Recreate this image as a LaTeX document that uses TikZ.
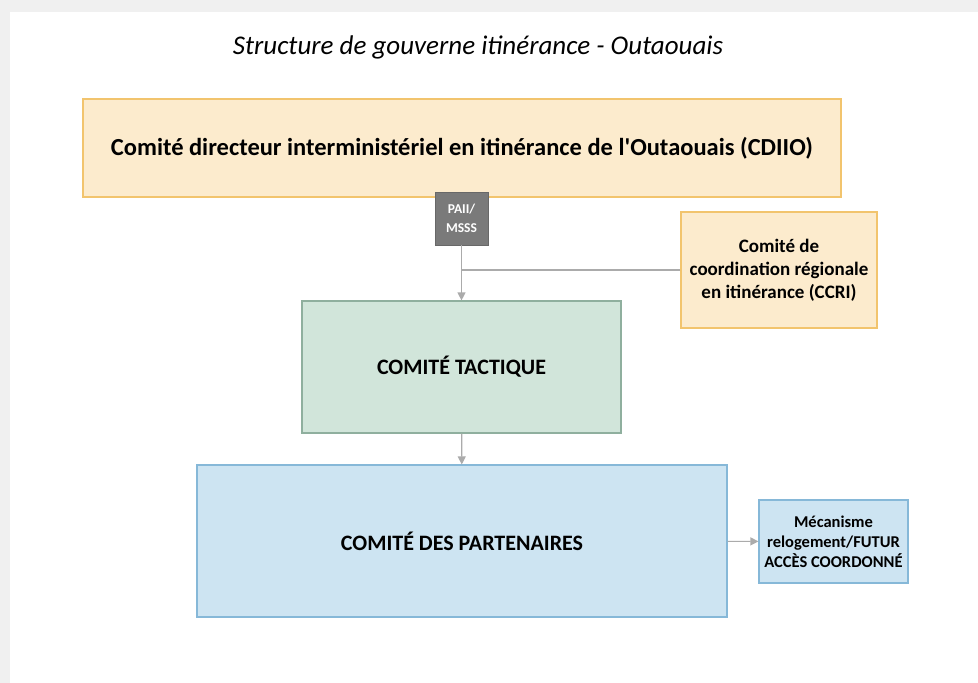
\documentclass[tikz,border=0pt]{standalone}
\usepackage{fontspec}
\setmainfont{Carlito}
\usepackage{tikz}
\usetikzlibrary{arrows.meta, positioning}
\definecolor{PaleGold}{HTML}{FCEBCD}
\definecolor{GoldEdge}{HTML}{F2C46D}
\definecolor{PaleSage}{HTML}{D1E5DA}
\definecolor{SageEdge}{HTML}{8FAF9E}
\definecolor{PaleSky}{HTML}{CDE4F2}
\definecolor{SkyEdge}{HTML}{86B8D8}
\definecolor{Slate}{HTML}{7A7A7A}
\definecolor{Wire}{HTML}{ABABAB}
\definecolor{Frame}{HTML}{F0F0F0}
\tikzset{
  box/.style={draw, line width=1.2pt, align=center, inner sep=2pt, font=\bfseries},
  directeur/.style={box, fill=PaleGold, draw=GoldEdge},
  tactique/.style={box, fill=PaleSage, draw=SageEdge},
  partenaire/.style={box, fill=PaleSky, draw=SkyEdge},
  badge/.style={fill=Slate, draw=Slate!85!black, text=white, align=center, font=\fontsize{13.5}{19}\selectfont\bfseries},
  link/.style={-{Triangle[length=8pt, width=8pt]}, line width=1.2pt, color=Wire},
  wire/.style={line width=1.2pt, color=Wire},
}

\begin{document}
\begin{tikzpicture}[x=1pt, y=-1pt]
  % page frame
  \fill[Frame] (0,0) rectangle (978,683);
  \fill[white] (10,12) rectangle (978,683);
  \useasboundingbox (0,0) rectangle (978,683);

  % title
  \node[font=\fontsize{27}{30}\selectfont\itshape] (titre) at (478,47)
    {Structure de gouverne itinérance - Outaouais};

  % top committee
  \node[directeur, minimum width=758pt, minimum height=98pt,
        font=\fontsize{24.5}{28}\selectfont\bfseries] (cdiio) at (462,148)
    {Comité directeur interministériel en itinérance de l\textquotesingle Outaouais (CDIIO)};
  \node[badge, minimum width=53pt, minimum height=53pt] (paii) at (461.5,218.5)
    {PAII/\\MSSS};

  % side committee
  \node[directeur, minimum width=196pt, minimum height=116pt,
        font=\fontsize{19}{23}\selectfont\bfseries] (ccri) at (779,270)
    {Comité de\\coordination régionale\\en itinérance (CCRI)};

  % tactical committee
  \node[tactique, minimum width=319pt, minimum height=132pt,
        font=\fontsize{22}{26}\selectfont\bfseries] (tact) at (461.5,367)
    {COMITÉ TACTIQUE};

  % partners
  \node[partenaire, minimum width=530pt, minimum height=152pt,
        font=\fontsize{22}{26}\selectfont\bfseries] (part) at (462,541)
    {COMITÉ DES PARTENAIRES};
  \node[partenaire, minimum width=149pt, minimum height=83pt,
        font=\fontsize{16.5}{20}\selectfont\bfseries] (meca) at (833.5,541.5)
    {Mécanisme\\relogement/FUTUR\\ACCÈS COORDONNÉ};

  % connectors
  \coordinate (jonction) at (paii.south |- ccri.west);
  \draw[link] (paii) -- (tact);
  \draw[wire] (ccri.west) -- (jonction);
  \draw[link] (tact) -- (part);
  \draw[link] (part) -- (meca);
\end{tikzpicture}
\end{document}
